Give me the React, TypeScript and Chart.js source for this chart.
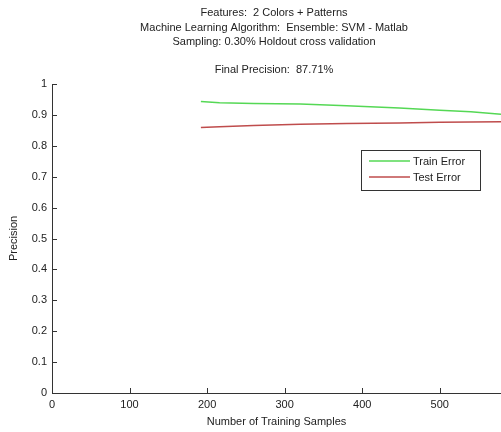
import React, { useEffect, useRef } from "react";
import { Chart, registerables } from "chart.js";

Chart.register(...registerables);

const titleLines = [
  "Features:  2 Colors + Patterns",
  "Machine Learning Algorithm:  Ensemble: SVM - Matlab",
  "Sampling: 0.30% Holdout cross validation",
];
const subTitle = "Final Precision:  87.71%";
const xLabel = "Number of Training Samples";
const yLabel = "Precision";

const samples = [192, 216, 260, 320, 380, 448, 500, 540, 579];
const trainPrecision = [0.943, 0.939, 0.937, 0.935, 0.93, 0.922, 0.915, 0.91, 0.902];
const testPrecision = [0.859, 0.862, 0.866, 0.87, 0.872, 0.874, 0.876, 0.877, 0.878];
const seriesNames = ["Train Error", "Test Error"];
const seriesColors = ["#55d855", "#bf4c4c"];
const xTicks = [0, 100, 200, 300, 400, 500];
const yTicks = [0, 0.1, 0.2, 0.3, 0.4, 0.5, 0.6, 0.7, 0.8, 0.9, 1];

const FONT = "Liberation Sans, Arial, sans-serif";

const decorPlugin = {
  id: "decor",
  afterDraw(chart: any) {
    const ctx = chart.ctx;
    const area = chart.chartArea;
    ctx.save();
    ctx.strokeStyle = "#333";
    ctx.lineWidth = 1;
    const xs = chart.scales.x;
    const ys = chart.scales.y;
    ctx.beginPath();
    xTicks.forEach((t) => {
      const px = Math.round(xs.getPixelForValue(t)) + 0.5;
      ctx.moveTo(px, area.bottom);
      ctx.lineTo(px, area.bottom - 5);
    });
    yTicks.forEach((t) => {
      const py = Math.round(ys.getPixelForValue(t)) + 0.5;
      ctx.moveTo(area.left, py);
      ctx.lineTo(area.left + 5, py);
    });
    ctx.stroke();

    ctx.fillStyle = "#222";
    ctx.font = "11px " + FONT;
    ctx.textAlign = "center";
    ctx.textBaseline = "middle";
    const cx = 274;
    titleLines.forEach((l, i) => ctx.fillText(l, cx, 13 + i * 14.5));
    ctx.fillText(subTitle, cx, 70);

    const bx = 361, by = 150, bw = 119, bh = 40;
    ctx.fillStyle = "#fff";
    ctx.fillRect(bx, by, bw, bh);
    ctx.strokeStyle = "#333";
    ctx.lineWidth = 1;
    ctx.strokeRect(bx + 0.5, by + 0.5, bw, bh);
    ctx.textAlign = "left";
    seriesNames.forEach((n, i) => {
      const ly = by + 11 + i * 16;
      ctx.strokeStyle = seriesColors[i];
      ctx.lineWidth = 1.5;
      ctx.beginPath();
      ctx.moveTo(bx + 8, ly);
      ctx.lineTo(bx + 49, ly);
      ctx.stroke();
      ctx.fillStyle = "#222";
      ctx.fillText(n, bx + 52, ly + 1);
    });
    ctx.restore();
  },
};

export default function App() {
  const ref = useRef<HTMLCanvasElement>(null);
  useEffect(() => {
    const chart = new Chart(ref.current!, {
      type: "line",
      data: {
        datasets: [
          {
            label: seriesNames[0],
            data: samples.map((x, i) => ({ x, y: trainPrecision[i] })),
            borderColor: seriesColors[0],
            borderWidth: 1.5,
            pointRadius: 0,
            tension: 0,
          },
          {
            label: seriesNames[1],
            data: samples.map((x, i) => ({ x, y: testPrecision[i] })),
            borderColor: seriesColors[1],
            borderWidth: 1.5,
            pointRadius: 0,
            tension: 0,
          },
        ],
      },
      options: {
        animation: false,
        responsive: false,
        events: [],
        layout: { padding: { top: 84, right: 0, left: 0, bottom: 0 } },
        plugins: {
          legend: { display: false },
          tooltip: { enabled: false },
          title: { display: false },
        },
        scales: {
          x: {
            type: "linear",
            min: 0,
            max: 579,
            afterBuildTicks: (s: any) => {
              s.ticks = xTicks.map((v) => ({ value: v }));
            },
            afterFit: (s: any) => {
              s.height = 39;
            },
            grid: { drawOnChartArea: false, drawTicks: false },
            border: { display: true, color: "#333", width: 1 },
            ticks: {
              padding: 5,
              color: "#222",
              font: { family: FONT, size: 11 },
              maxRotation: 0,
            },
            title: {
              display: true,
              text: xLabel,
              color: "#222",
              font: { family: FONT, size: 11 },
              padding: { top: 0, bottom: 3 },
            },
          },
          y: {
            type: "linear",
            min: 0,
            max: 1,
            afterBuildTicks: (s: any) => {
              s.ticks = yTicks.map((v) => ({ value: v }));
            },
            afterFit: (s: any) => {
              s.width = 52;
            },
            grid: { drawOnChartArea: false, drawTicks: false },
            border: { display: true, color: "#333", width: 1 },
            ticks: {
              padding: 5,
              color: "#222",
              font: { family: FONT, size: 11 },
              callback: (v: any) => String(Math.round(Number(v) * 10) / 10),
            },
            title: {
              display: true,
              text: yLabel,
              color: "#222",
              font: { family: FONT, size: 11 },
              padding: { top: 7, bottom: 0 },
            },
          },
        },
      },
      plugins: [decorPlugin],
    });
    return () => chart.destroy();
  }, []);
  return (
    <div style={{ position: "absolute", left: 0, top: 0, width: 501, height: 432, background: "#fff" }}>
      <canvas ref={ref} width={501} height={432} style={{ display: "block" }} />
    </div>
  );
}
